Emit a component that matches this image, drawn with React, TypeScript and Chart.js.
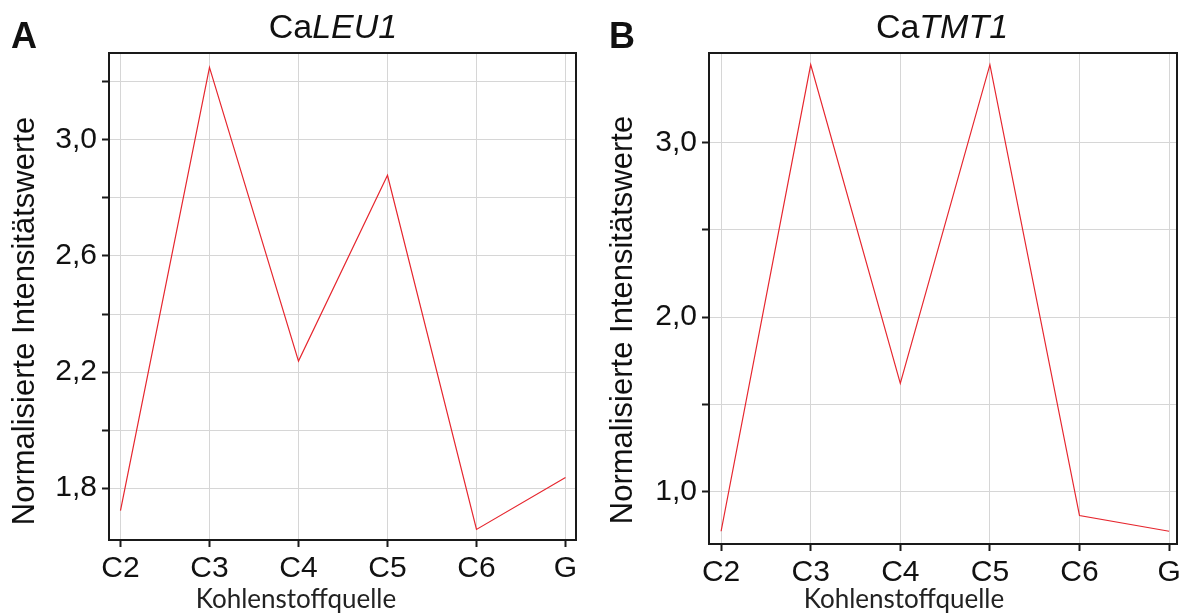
import React, { useEffect, useRef } from "react";
import { Chart, registerables } from "chart.js";

Chart.register(...registerables);

// ---- data ----
const categories = ["C2", "C3", "C4", "C5", "C6", "G"];
const xTickValues = [0, 1, 2, 3, 4, 5];

const leu1Values = [1.723, 3.25, 2.238, 2.878, 1.658, 1.837];
const tmt1Values = [0.773, 3.445, 1.62, 3.445, 0.863, 0.773];

const leu1TickValues = [1.8, 2.0, 2.2, 2.4, 2.6, 2.8, 3.0, 3.2];
const leu1TickLabels = ["1,8", "", "2,2", "", "2,6", "", "3,0", ""];

const tmt1TickValues = [1.0, 1.5, 2.0, 2.5, 3.0];
const tmt1TickLabels = ["1,0", "", "2,0", "", "3,0"];

const yTitle = "Normalisierte Intensitätswerte";
const xTitle = "Kohlenstoffquelle";

type PanelCfg = {
  values: number[];
  yTicks: number[];
  yLabels: string[];
  yMin: number;
  yMax: number;
  xMin: number;
  xMax: number;
  yAxisWidth: number;
  xAxisHeight: number;
  padRight: number;
  padTop: number;
};

const panelA: PanelCfg = {
  values: leu1Values,
  yTicks: leu1TickValues,
  yLabels: leu1TickLabels,
  yMin: 1.6215,
  yMax: 3.2994,
  xMin: -0.129,
  xMax: 5.118,
  yAxisWidth: 109,
  xAxisHeight: 76,
  padRight: 14,
  padTop: 53,
};

const panelB: PanelCfg = {
  values: tmt1Values,
  yTicks: tmt1TickValues,
  yLabels: tmt1TickLabels,
  yMin: 0.7,
  yMax: 3.512,
  xMin: -0.135,
  xMax: 5.088,
  yAxisWidth: 119,
  xAxisHeight: 72,
  padRight: 3,
  padTop: 53,
};

const frameColor = "#1a1a1a";
const gridColor = "#d6d6d6";
const lineColor = "#e6262e";
const sansFamily = "'Liberation Sans', Arial, sans-serif";

const framePlugin = {
  id: "frame",
  afterDraw(chart: any) {
    const { ctx, chartArea: a } = chart;
    ctx.save();
    ctx.strokeStyle = frameColor;
    ctx.lineWidth = 2;
    ctx.strokeRect(a.left, a.top, a.right - a.left, a.bottom - a.top);
    ctx.restore();
  },
};

function Panel({ cfg }: { cfg: PanelCfg }) {
  const ref = useRef<HTMLCanvasElement | null>(null);
  useEffect(() => {
    if (!ref.current) return;
    const chart = new Chart(ref.current, {
      type: "line",
      data: {
        datasets: [
          {
            data: categories.map((_, i) => ({ x: xTickValues[i], y: cfg.values[i] })),
            borderColor: lineColor,
            borderWidth: 1.2,
            pointRadius: 0,
            tension: 0,
            fill: false,
          },
        ],
      },
      options: {
        animation: false,
        responsive: false,
        maintainAspectRatio: false,
        devicePixelRatio: 1,
        layout: { padding: { left: 0, right: cfg.padRight, top: cfg.padTop, bottom: 0 } },
        plugins: { legend: { display: false }, tooltip: { enabled: false }, title: { display: false } },
        scales: {
          x: {
            type: "linear",
            min: cfg.xMin,
            max: cfg.xMax,
            afterBuildTicks: (s: any) => {
              s.ticks = xTickValues.map((v) => ({ value: v }));
            },
            afterFit: (s: any) => {
              s.height = cfg.xAxisHeight;
              s.paddingLeft = 0;
              s.paddingRight = 0;
            },
            ticks: {
              autoSkip: false,
              maxRotation: 0,
              minRotation: 0,
              padding: 4,
              color: "#111",
              font: { family: sansFamily, size: 30 },
              callback: (_v: any, i: number) => categories[i],
            },
            grid: {
              color: gridColor,
              lineWidth: 1,
              drawTicks: true,
              tickLength: 7,
              tickColor: frameColor,
              tickWidth: 2,
            },
            border: { display: false },
            title: { display: false },
          },
          y: {
            type: "linear",
            min: cfg.yMin,
            max: cfg.yMax,
            afterBuildTicks: (s: any) => {
              s.ticks = cfg.yTicks.map((v) => ({ value: v }));
            },
            afterFit: (s: any) => {
              s.width = cfg.yAxisWidth;
              s.paddingTop = 0;
              s.paddingBottom = 0;
            },
            ticks: {
              autoSkip: false,
              padding: 5,
              color: "#111",
              font: { family: sansFamily, size: 30 },
              callback: (_v: any, i: number) => cfg.yLabels[i],
            },
            grid: {
              color: gridColor,
              lineWidth: 1,
              drawTicks: true,
              tickLength: 7,
              tickColor: frameColor,
              tickWidth: 2,
            },
            border: { display: false },
            title: { display: false },
          },
        },
      },
      plugins: [framePlugin],
    } as any);
    return () => chart.destroy();
  }, [cfg]);
  return <canvas ref={ref} width={590} height={616} style={{ display: "block", width: 590, height: 616 }} />;
}

function YTitle({ cx, cy }: { cx: number; cy: number }) {
  return (
    <div
      style={{
        position: "absolute",
        left: cx - 250,
        top: cy - 18,
        width: 500,
        height: 36,
        lineHeight: "36px",
        textAlign: "center",
        fontFamily: sansFamily,
        fontSize: 31,
        color: "#111",
        whiteSpace: "nowrap",
        transform: "rotate(-90deg)",
      }}
    >
      {yTitle}
    </div>
  );
}

function XTitle({ cx }: { cx: number }) {
  return (
    <div
      style={{
        position: "absolute",
        left: cx - 150,
        top: 583,
        width: 300,
        height: 31,
        lineHeight: "31px",
        textAlign: "center",
        fontFamily: "Lato, 'Open Sans', sans-serif",
        fontSize: 26,
        color: "#222",
        whiteSpace: "nowrap",
      }}
    >
      {xTitle}
    </div>
  );
}

export default function App() {
  const titleStyle: React.CSSProperties = {
    position: "absolute",
    top: 9,
    width: 300,
    textAlign: "center",
    fontFamily: sansFamily,
    fontSize: 34,
    lineHeight: "34px",
    color: "#111",
    whiteSpace: "nowrap",
  };
  const letterStyle: React.CSSProperties = {
    position: "absolute",
    top: 18,
    fontFamily: sansFamily,
    fontWeight: "bold",
    fontSize: 36,
    lineHeight: "36px",
    color: "#111",
  };
  return (
    <div style={{ position: "absolute", left: 0, top: 0, width: 1180, height: 616, overflow: "hidden", background: "#fff" }}>
      <div style={{ position: "absolute", left: 0, top: 0 }}>
        <Panel cfg={panelA} />
      </div>
      <div style={{ position: "absolute", left: 590, top: 0 }}>
        <Panel cfg={panelB} />
      </div>
      <YTitle cx={23.5} cy={321} />
      <YTitle cx={621.5} cy={320} />
      <XTitle cx={296} />
      <XTitle cx={904} />
      <div style={{ ...letterStyle, left: 11 }}>A</div>
      <div style={{ ...letterStyle, left: 609 }}>B</div>
      <div style={{ ...titleStyle, left: 333 - 150 }}>
        Ca<i>LEU1</i>
      </div>
      <div style={{ ...titleStyle, left: 942 - 150 }}>
        Ca<i>TMT1</i>
      </div>
    </div>
  );
}
